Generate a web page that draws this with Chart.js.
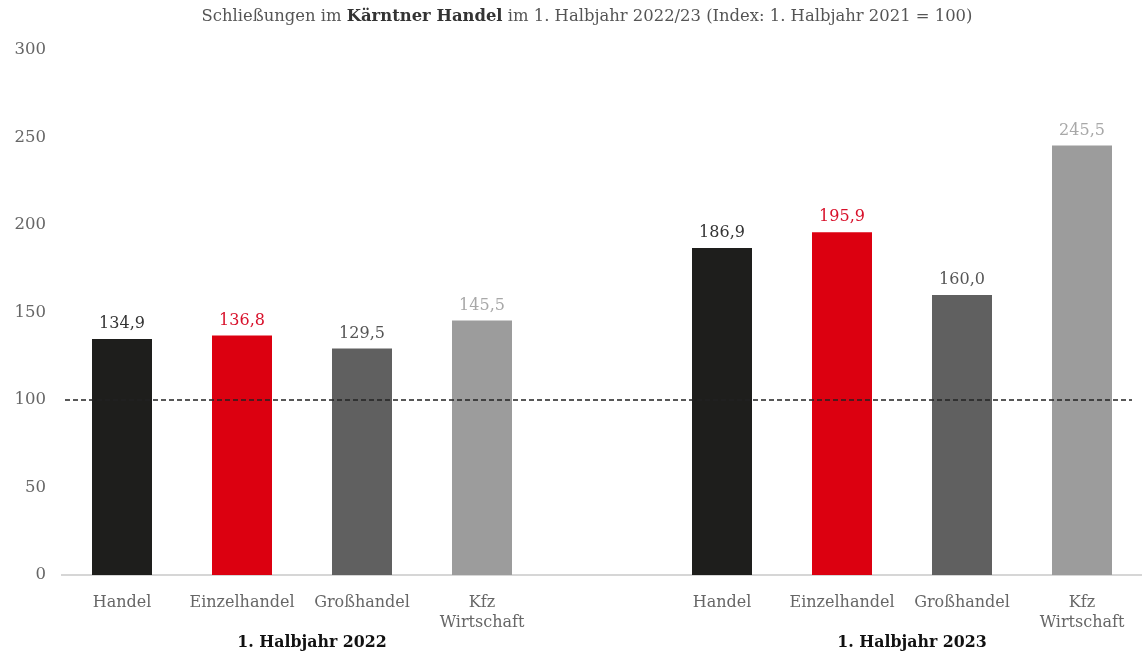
<!DOCTYPE html>
<html>
<head>
<meta charset="utf-8">
<script src="https://cdn.jsdelivr.net/npm/chart.js@4.4.1/dist/chart.umd.min.js"></script>
<style>
    html, body { margin: 0; padding: 0; background: #fff; }
    #wrap { position: relative; width: 1142px; height: 653px; }
    #title {
        position: absolute; left: 0; top: 6px; width: 1174px;
        text-align: center; font-family: "DejaVu Serif", serif; font-size: 16.4px; color: #555;
    }
    #title b { color: #333; }
</style>
</head>
<body>
<div id="wrap">
    <canvas id="chart" width="1142" height="653"></canvas>
    <div id="title">Schließungen im <b>Kärntner Handel</b> im 1. Halbjahr 2022/23 (Index: 1. Halbjahr 2021 = 100)</div>
</div>
<script>
const categories = ["Handel", "Einzelhandel", "Großhandel", ["Kfz", "Wirtschaft"], "",
    "Handel", "Einzelhandel", "Großhandel", ["Kfz", "Wirtschaft"]];
const values = [134.9, 136.8, 129.5, 145.5, null, 186.9, 195.9, 160.0, 245.5];
const barColors = ["#1e1e1c", "#dc0010", "#606060", "#9c9c9c", "#fff",
    "#1e1e1c", "#dc0010", "#606060", "#9c9c9c"];
const valueColors = ["#333333", "#d8102a", "#555555", "#a8a8a8", "#fff",
    "#333333", "#d8102a", "#555555", "#a8a8a8"];
const yTicks = [0, 50, 100, 150, 200, 250, 300];
const groups = ["1. Halbjahr 2022", "1. Halbjahr 2023"];
const groupRanges = [[0, 3], [5, 8]];
const indexLine = 100;

const fontFamily = "'DejaVu Serif', serif";

// dashed reference line, value labels and group labels
const extras = {
    id: "extras",
    afterDatasetsDraw(chart) {
        const ctx = chart.ctx;
        const x = chart.scales.x;
        const y = chart.scales.y;
        const area = chart.chartArea;

        // index line
        ctx.save();
        ctx.strokeStyle = "#222";
        ctx.lineWidth = 1.5;
        ctx.setLineDash([5, 3]);
        ctx.beginPath();
        ctx.moveTo(area.left + 3, y.getPixelForValue(indexLine));
        ctx.lineTo(area.right - 10, y.getPixelForValue(indexLine));
        ctx.stroke();
        ctx.restore();

        // value labels
        const meta = chart.getDatasetMeta(0);
        ctx.save();
        ctx.font = "16px " + fontFamily;
        ctx.textAlign = "center";
        ctx.textBaseline = "bottom";
        meta.data.forEach((bar, i) => {
            if (values[i] === null) return;
            ctx.fillStyle = valueColors[i];
            ctx.fillText(values[i].toFixed(1).replace(".", ","), bar.x, bar.y - 7);
        });
        ctx.restore();

        // group labels
        ctx.save();
        ctx.font = "bold 15.8px " + fontFamily;
        ctx.fillStyle = "#111";
        ctx.textAlign = "center";
        ctx.textBaseline = "middle";
        groups.forEach((g, i) => {
            const cx = (x.getPixelForValue(groupRanges[i][0]) + x.getPixelForValue(groupRanges[i][1])) / 2;
            ctx.fillText(g, cx + 10, 643);
        });
        ctx.restore();
    }
};

new Chart(document.getElementById("chart"), {
    type: "bar",
    data: {
        labels: categories,
        datasets: [{
            data: values,
            backgroundColor: barColors,
            barPercentage: 0.5,
            categoryPercentage: 1.0
        }]
    },
    options: {
        responsive: false,
        animation: false,
        layout: { padding: { top: 50, right: 0, left: 0, bottom: 0 } },
        plugins: {
            legend: { display: false },
            tooltip: { enabled: false }
        },
        scales: {
            x: {
                grid: { display: false },
                border: { display: true, color: "#d6d6d6", width: 2 },
                ticks: {
                    color: "#666",
                    font: { family: fontFamily, size: 16, lineHeight: 1.3 },
                    padding: 9,
                    maxRotation: 0,
                    autoSkip: false
                },
                afterFit(scale) { scale.height = 78; }
            },
            y: {
                min: 0,
                max: 300,
                grid: { display: false },
                border: { display: false },
                afterBuildTicks(scale) {
                    scale.ticks = yTicks.map(v => ({ value: v }));
                },
                ticks: {
                    color: "#666",
                    font: { family: fontFamily, size: 16.5 },
                    padding: 8
                },
                afterFit(scale) { scale.width = 62; }
            }
        }
    },
    plugins: [extras]
});
</script>
</body>
</html>
